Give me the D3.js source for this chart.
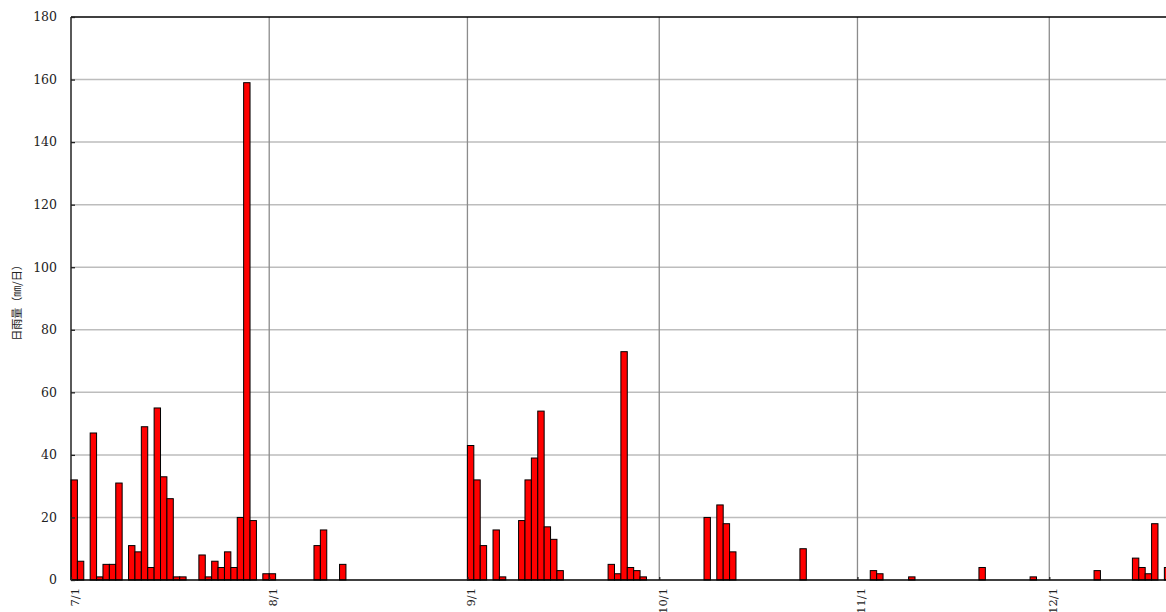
<!DOCTYPE html>
<html>
<head>
<meta charset="utf-8">
<script src="https://cdn.jsdelivr.net/npm/d3@7"></script>
<style>
  html, body { margin: 0; padding: 0; background: #fff; overflow: hidden; }
  svg { display: block; }
</style>
</head>
<body>
<svg id="chart" width="1166" height="612"></svg>
<script>
// Daily rainfall (mm/day), one array per month
const julyRain = [32, 6, 0, 47, 1, 5, 5, 31, 0, 11, 9, 49, 4, 55, 33, 26, 1, 1, 0, 0, 8, 1, 6, 4, 9, 4, 20, 159, 19, 0, 2];
const augRain  = [2, 0, 0, 0, 0, 0, 0, 11, 16, 0, 0, 5, 0, 0, 0, 0, 0, 0, 0, 0, 0, 0, 0, 0, 0, 0, 0, 0, 0, 0, 0];
const sepRain  = [43, 32, 11, 0, 16, 1, 0, 0, 19, 32, 39, 54, 17, 13, 3, 0, 0, 0, 0, 0, 0, 0, 5, 2, 73, 4, 3, 1, 0, 0];
const octRain  = [0, 0, 0, 0, 0, 0, 0, 20, 0, 24, 18, 9, 0, 0, 0, 0, 0, 0, 0, 0, 0, 0, 10, 0, 0, 0, 0, 0, 0, 0, 0];
const novRain  = [0, 0, 3, 2, 0, 0, 0, 0, 1, 0, 0, 0, 0, 0, 0, 0, 0, 0, 0, 4, 0, 0, 0, 0, 0, 0, 0, 1, 0, 0];
const decRain  = [0, 0, 0, 0, 0, 0, 0, 3, 0, 0, 0, 0, 0, 7, 4, 2, 18, 0, 4];

const monthLabels = ["7/1", "8/1", "9/1", "10/1", "11/1", "12/1"];
const monthLengths = [31, 31, 30, 31, 30, 31];
const yTicks = [0, 20, 40, 60, 80, 100, 120, 140, 160, 180];
const yTitle = "日雨量（㎜/日）";

const months = [julyRain, augRain, sepRain, octRain, novRain, decRain];
const daily = [];
months.forEach(arr => arr.forEach(v => daily.push(v)));
const monthStarts = [];
let acc = 0;
monthLengths.forEach(n => { monthStarts.push(acc); acc += n; });
const totalDays = acc; // 184

const svg = d3.select("#chart");
const plotLeft = 71, plotTop = 17, plotBottom = 580;
const dayW = 6.394;
const x = d3.scaleLinear().domain([0, totalDays]).range([plotLeft, plotLeft + totalDays * dayW]);
const y = d3.scaleLinear().domain([0, 180]).range([plotBottom, plotTop]);
const plotRight = x(totalDays);

// horizontal grid
svg.append("g").selectAll("line").data(yTicks.filter(t => t > 0 && t < 180)).join("line")
  .attr("x1", plotLeft).attr("x2", plotRight)
  .attr("y1", d => y(d)).attr("y2", d => y(d))
  .attr("stroke", "#bdbdbd").attr("stroke-width", 1.5);

// vertical grid at month starts
svg.append("g").selectAll("line").data(monthStarts.slice(1)).join("line")
  .attr("x1", d => x(d)).attr("x2", d => x(d))
  .attr("y1", plotTop).attr("y2", plotBottom)
  .attr("stroke", "#8c8c8c").attr("stroke-width", 1.3);

// bars
svg.append("g").selectAll("rect").data(daily.map((v, i) => ({v, i})).filter(d => d.v > 0)).join("rect")
  .attr("x", d => x(d.i))
  .attr("y", d => y(d.v))
  .attr("width", d => x(d.i + 1) - x(d.i))
  .attr("height", d => y(0) - y(d.v))
  .attr("fill", "#ff0000")
  .attr("stroke", "#000")
  .attr("stroke-width", 1);

// frame lines
svg.append("line").attr("x1", plotLeft).attr("x2", plotRight).attr("y1", plotTop).attr("y2", plotTop)
  .attr("stroke", "#000").attr("stroke-width", 1.3);
svg.append("line").attr("x1", plotLeft).attr("x2", plotRight).attr("y1", plotBottom).attr("y2", plotBottom)
  .attr("stroke", "#000").attr("stroke-width", 1.3);
svg.append("line").attr("x1", plotLeft).attr("x2", plotLeft).attr("y1", plotTop).attr("y2", plotBottom)
  .attr("stroke", "#000").attr("stroke-width", 1.3);

// y axis ticks (inward) and labels
const yAxis = d3.axisRight(y).tickValues(yTicks).tickSize(4).tickFormat("");
const gy = svg.append("g").attr("transform", `translate(${plotLeft},0)`).call(yAxis);
gy.select(".domain").remove();
gy.selectAll("line").attr("stroke", "#222").attr("stroke-width", 1.3);

svg.append("g").selectAll("text").data(yTicks).join("text")
  .attr("x", 57).attr("y", d => y(d)).attr("dy", "0.35em")
  .attr("text-anchor", "end")
  .attr("font-family", "'DejaVu Serif', serif").attr("font-size", 12.5)
  .attr("fill", "#222")
  .text(d => d);

// x axis ticks (inward) and rotated labels
const xAxis = d3.axisTop(x).tickValues(monthStarts).tickSize(3).tickFormat("");
const gx = svg.append("g").attr("transform", `translate(0,${plotBottom})`).call(xAxis);
gx.select(".domain").remove();
gx.selectAll("line").attr("stroke", "#222").attr("stroke-width", 1.3);

svg.append("g").selectAll("text").data(monthStarts).join("text")
  .attr("transform", (d) => `translate(${x(d) + 8},588) rotate(-90)`)
  .attr("text-anchor", "end")
  .attr("font-family", "'DejaVu Serif', serif").attr("font-size", 11.5)
  .attr("fill", "#222")
  .text((d, i) => monthLabels[i]);

// y title
svg.append("text")
  .attr("transform", "translate(21,300) rotate(-90)")
  .attr("text-anchor", "middle")
  .attr("font-family", "'Noto Sans CJK JP', sans-serif").attr("font-size", 11)
  .attr("fill", "#222")
  .text(yTitle);
</script>
</body>
</html>
